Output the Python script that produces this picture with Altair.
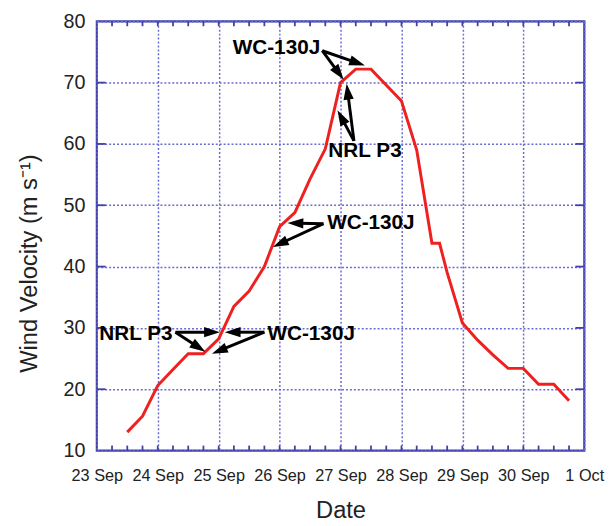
import math
import altair as alt
import pandas as pd

# ---- data (day of September; 31 = 1 Oct) ----
times = [23.5, 23.75, 24.0, 24.25, 24.5, 24.75, 25.0, 25.25, 25.5, 25.75,
         26.0, 26.25, 26.5, 26.75, 27.0, 27.25, 27.5, 28.0, 28.25, 28.5,
         28.625, 28.75, 29.0, 29.25, 29.5, 29.75, 30.0, 30.25, 30.5, 30.75]
wind = [13.0, 15.6, 20.6, 23.2, 25.8, 25.8, 28.2, 33.5, 36.0, 40.0,
        46.5, 48.8, 54.3, 59.2, 70.0, 72.2, 72.2, 67.0, 59.0, 43.8,
        43.8, 39.0, 30.8, 28.0, 25.6, 23.4, 23.4, 20.8, 20.8, 18.1]

x_ticks = [23, 24, 25, 26, 27, 28, 29, 30, 31]
x_tick_labels = ["23 Sep", "24 Sep", "25 Sep", "26 Sep", "27 Sep",
                 "28 Sep", "29 Sep", "30 Sep", "1 Oct"]
y_ticks = [10, 20, 30, 40, 50, 60, 70, 80]
x_minor = [23 + 0.25 * i for i in range(1, 32)]

labels = ["WC-130J", "NRL P3", "WC-130J", "NRL P3", "WC-130J"]
label_x = [25.23, 26.80, 26.78, 23.04, 25.80]
label_y = [75.7, 58.9, 47.1, 29.05, 29.05]

arrow_x1 = [26.70, 26.70, 27.22, 27.22, 26.72, 26.72, 24.29, 24.29, 25.75, 25.75]
arrow_y1 = [75.2, 75.2, 60.5, 60.5, 47.0, 47.0, 29.3, 29.3, 29.3, 29.3]
arrow_x2 = [27.40, 27.05, 27.10, 26.95, 26.13, 25.89, 25.02, 24.78, 25.10, 24.89]
arrow_y2 = [72.8, 70.5, 69.8, 65.5, 47.1, 43.2, 29.3, 26.1, 29.3, 25.8]

# ---- layout ----
W, H = 494, 435
FRAME = "#4040a8"
GRID = "#6a6ad0"
FONT = "Liberation Sans"
pxd = W / 8.0
pxv = H / 70.0

xs = alt.Scale(domain=[23, 31], nice=False, zero=False)
ys = alt.Scale(domain=[10, 80], nice=False, zero=False)

line_df = pd.DataFrame({"t": times, "v": wind})

label_expr = "{" + ",".join(f"'{k}':'{v}'" for k, v in zip(x_ticks, x_tick_labels)) + "}[datum.value]"

x_axis = alt.Axis(values=x_ticks, labelExpr=label_expr, labelOverlap=False, labelFlush=False,
                  labelBound=False, grid=True, gridDash=[2, 2],
                  gridColor=GRID, gridWidth=1.5, ticks=False, domain=False,
                  labelFontSize=16.5, labelPadding=17, labelColor="#222222", labelFont=FONT,
                  title="Date", titleFontSize=24, titleFontWeight="normal", titleFont=FONT,
                  titleColor="#222222", titleY=68, titleBaseline="alphabetic")
y_axis = alt.Axis(values=y_ticks, grid=True, gridDash=[2, 2], gridColor=GRID, gridWidth=1.5,
                  ticks=False, domain=False, labelFontSize=20, labelPadding=12,
                  labelColor="#222222", labelFont=FONT,
                  title="Wind Velocity (m s\u207b\u00b9)", titleFontSize=24, titleFontWeight="normal",
                  titleFont=FONT, titleColor="#222222", titleX=-61, titleY=245,
                  titleBaseline="alphabetic", titleAngle=270, titleAlign="center")

line = alt.Chart(line_df).mark_line(color="#ee2020", strokeWidth=3, strokeJoin="miter").encode(
    x=alt.X("t:Q", scale=xs, axis=x_axis),
    y=alt.Y("v:Q", scale=ys, axis=y_axis),
)

xm_df = pd.DataFrame({"p": x_minor})
yt_df = pd.DataFrame({"p": y_ticks[1:-1]})
tick_style = dict(color=FRAME, strokeWidth=1.8)
top_ticks = alt.Chart(xm_df).mark_rule(**tick_style).encode(
    x=alt.X("p:Q", scale=xs), y=alt.value(0), y2=alt.value(5))
bot_ticks = alt.Chart(xm_df).mark_rule(**tick_style).encode(
    x=alt.X("p:Q", scale=xs), y=alt.value(H), y2=alt.value(H - 5))
left_ticks = alt.Chart(yt_df).mark_rule(**tick_style).encode(
    y=alt.Y("p:Q", scale=ys), x=alt.value(0), x2=alt.value(9))
right_ticks = alt.Chart(yt_df).mark_rule(**tick_style).encode(
    y=alt.Y("p:Q", scale=ys), x=alt.value(W - 9), x2=alt.value(W))

# arrows
HEAD = 16
rows = []
for x1, y1, x2, y2 in zip(arrow_x1, arrow_y1, arrow_x2, arrow_y2):
    dx = (x2 - x1) * pxd
    dy = -(y2 - y1) * pxv
    L = math.hypot(dx, dy)
    ux, uy = dx / L, dy / L
    ang = math.degrees(math.atan2(ux, -uy)) % 360
    ex = x2 - ux * (HEAD - 4) / pxd
    ey = y2 + uy * (HEAD - 4) / pxv
    rows.append({"x1": x1, "y1": y1, "ex": ex, "ey": ey, "x2": x2, "y2": y2, "ang": ang})
arr_df = pd.DataFrame(rows)

shafts = alt.Chart(arr_df).mark_rule(color="black", strokeWidth=3, strokeCap="butt").encode(
    x=alt.X("x1:Q", scale=xs), y=alt.Y("y1:Q", scale=ys),
    x2="ex:Q", y2="ey:Q")
heads = alt.Chart(arr_df).mark_point(
    shape="M0,0L-0.65,2L0.65,2Z", filled=True, color="black", opacity=1, size=HEAD * HEAD,
    strokeWidth=0).encode(
    x=alt.X("x2:Q", scale=xs), y=alt.Y("y2:Q", scale=ys),
    angle=alt.Angle("ang:Q", scale=None))

lab_df = pd.DataFrame({"x": label_x, "y": label_y, "txt": labels})
texts = alt.Chart(lab_df).mark_text(align="left", baseline="middle", font=FONT,
                                    fontWeight="bold", fontSize=21, color="black").encode(
    x=alt.X("x:Q", scale=xs), y=alt.Y("y:Q", scale=ys), text="txt:N")

chart = alt.layer(line, top_ticks, bot_ticks, left_ticks, right_ticks, shafts, heads, texts).properties(
    width=W, height=H,
    autosize=alt.AutoSizeParams(type="none"),
    padding={"left": 90, "top": 10, "right": 21, "bottom": 73},
    background="white",
).configure_view(stroke=FRAME, strokeWidth=2.2)

chart.save("out.html", embed_options={"renderer": "svg", "actions": False})
